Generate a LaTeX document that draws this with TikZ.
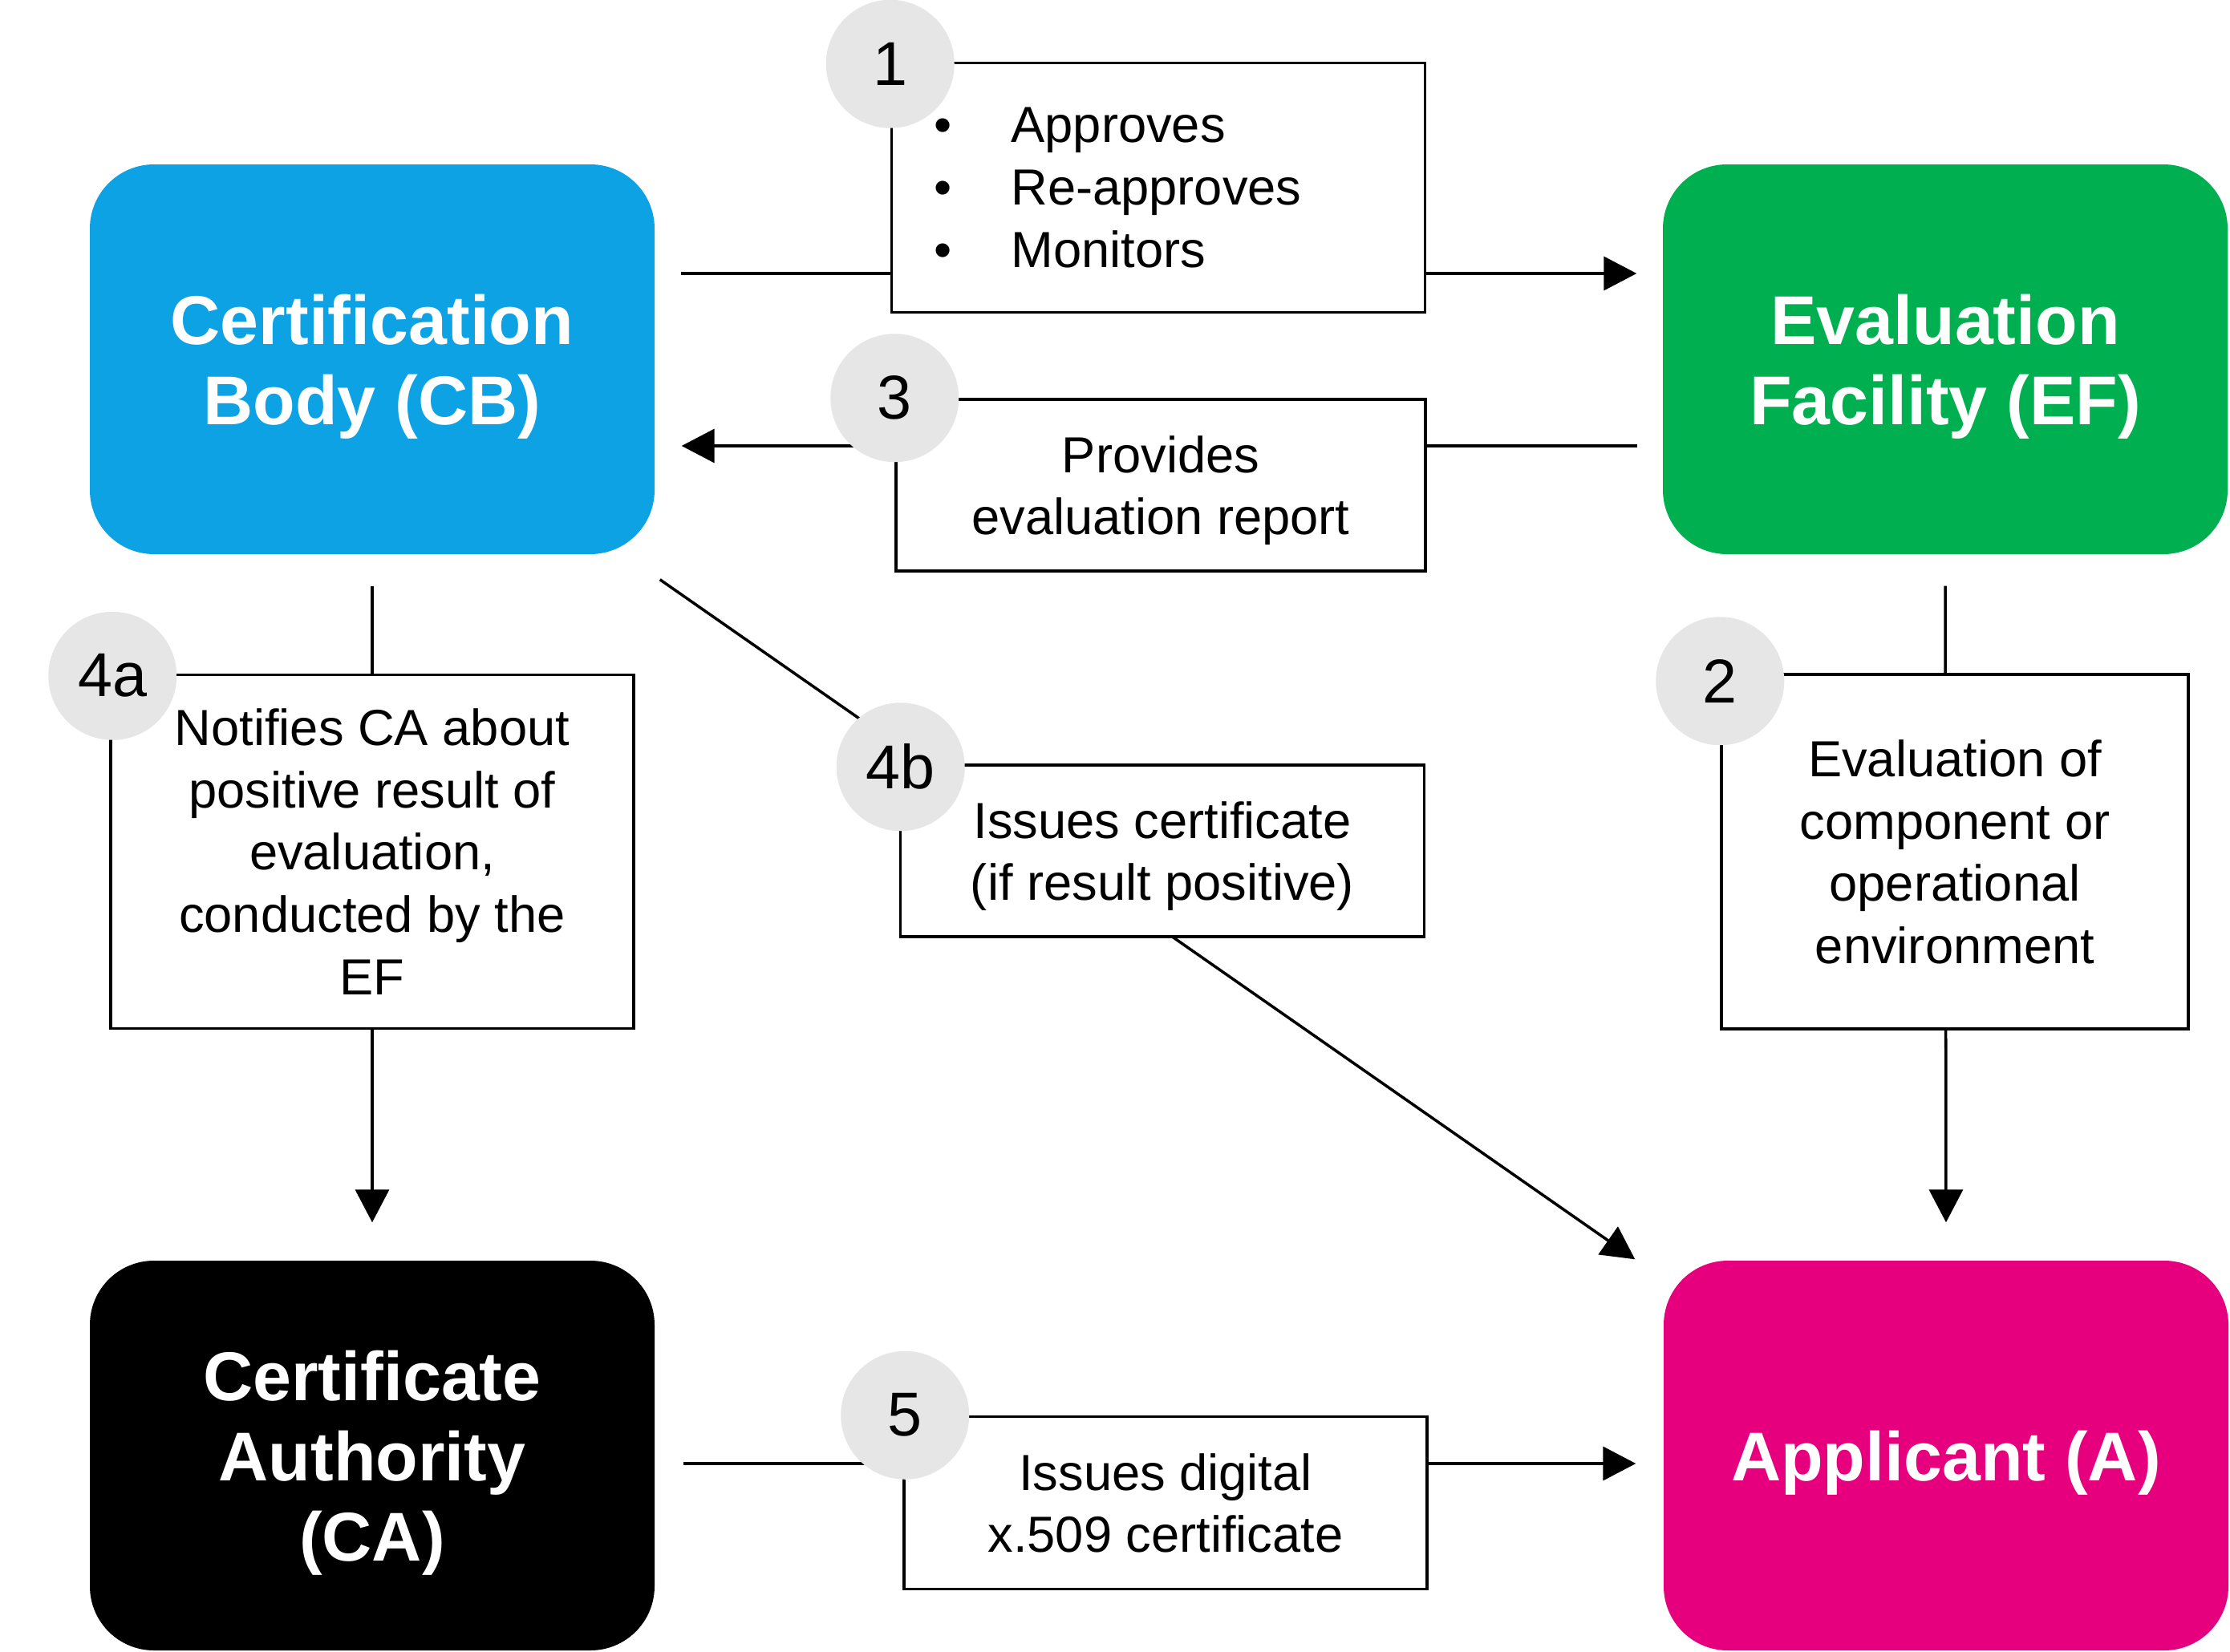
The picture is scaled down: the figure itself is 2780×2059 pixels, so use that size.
\documentclass[tikz,border=0pt]{standalone}
\usepackage{fontspec}
\setmainfont{Liberation Sans}
\usetikzlibrary{arrows.meta,positioning,calc}
\definecolor{cbblue}{RGB}{13,162,227}
\definecolor{efgreen}{RGB}{0,176,80}
\definecolor{apmagenta}{RGB}{230,0,126}
\definecolor{numgray}{RGB}{230,230,230}
\tikzset{
  myrole/.style = {rectangle, rounded corners=8mm, fill=#1, text=white, minimum width=70.4mm, minimum height=48.6mm, text depth=0pt, align=center, font=\fontsize{24.5}{28.5}\selectfont\bfseries},
  mybox/.style = {rectangle, draw, line width=1pt, fill=white, text depth=0pt, align=center, font=\fontsize{18}{22.1}\selectfont},
  mynum/.style = {circle, fill=numgray, minimum size=16mm, inner sep=0pt, font=\fontsize{22}{26}\selectfont},
  myarrow/.style = {-{Triangle[length=4.1mm, width=4.2mm]}, line width=1pt},
}
\newcommand{\mybullet}{\makebox[8.9mm][l]{\hspace{-0.7mm}\textbullet}}

\begin{document}
\begin{tikzpicture}[x=0.1mm,y=-0.1mm]
\useasboundingbox (0,0) rectangle (2780,2059);
% parties
\node[myrole=cbblue] (cb) at (464,448) {Certification\\Body (CB)};
\node[myrole=efgreen] (ef) at (2425,448) {Evaluation\\Facility (EF)};
\node[myrole=black] (ca) at (464,1815) {Certificate\\Authority\\(CA)};
\node[myrole=apmagenta] (ap) at (2426,1815) {Applicant (A)};
% connectors, the label boxes sit on top of them
\draw[myarrow] ($(cb.east)+(32,-107)$) -- ($(ef.west)+(-32,-107)$);
\draw[myarrow] ($(ef.west)+(-31,108)$) -- ($(cb.east)+(33,108)$);
\draw[myarrow] ($(cb.south)+(0,39)$) -- ($(ca.north)+(0,-47)$);
\draw[myarrow] ($(ef.south)+(0,39)$) -- ($(ap.north)+(0,-47)$);
\draw[myarrow] ($(cb.south east)+(6,31)$) -- ($(ap.north west)+(-35,-1)$);
\draw[myarrow] ($(ca.east)+(35,10)$) -- ($(ap.west)+(-34,10)$);
% labels
\node[mybox, text depth={}, text width=54.5mm, inner xsep=6mm, minimum height=31.1mm, align=left] (b1) at (1444,234)
  {\mybullet Approves\\\mybullet Re-approves\\\mybullet Monitors};
\node[mybox, minimum width=66mm, minimum height=21.4mm] (b3) at (1447,605) {Provides\\evaluation report};
\node[mybox, minimum width=65.2mm, minimum height=44.1mm] (b4a) at (464,1062) {Notifies CA about\\positive result of\\evaluation,\\conducted by the\\EF};
\node[mybox, minimum width=58.2mm, minimum height=44.2mm] (b2) at (2437,1062) {Evaluation of\\component or\\operational\\environment};
\node[mybox, minimum width=65.3mm, minimum height=21.4mm] (b4b) at (1449,1061) {Issues certificate\\(if result positive)};
\node[mybox, minimum width=65.2mm, minimum height=21.5mm] (b5) at (1453,1874) {Issues digital\\x.509 certificate};
% step numbers
\node[mynum] (n1) at ($(b1.north west)+(0,3)$) {1};
\node[mynum] (n3) at (b3.north west) {3};
\node[mynum] (n4a) at ($(b4a.north west)+(4,3)$) {4a};
\node[mynum] (n2) at ($(b2.north west)+(0,10)$) {2};
\node[mynum] (n4b) at ($(b4b.north west)+(2,4)$) {4b};
\node[mynum] (n5) at ($(b5.north west)+(3,0)$) {5};
\end{tikzpicture}
\end{document}
